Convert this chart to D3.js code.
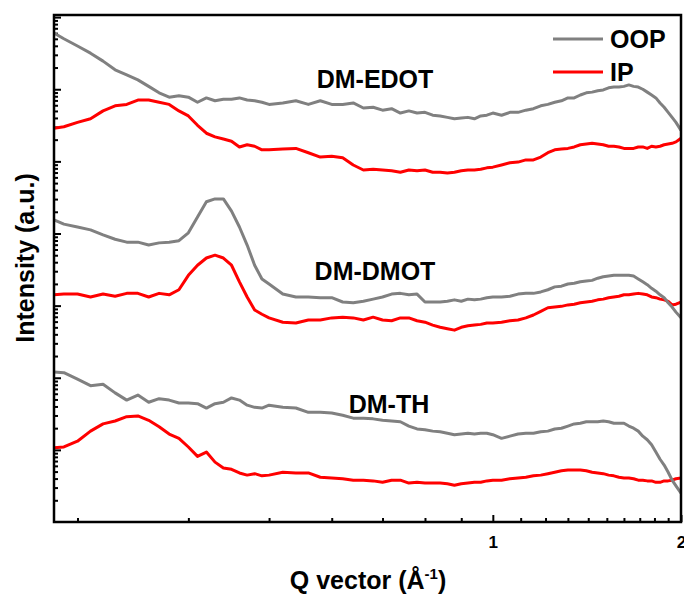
<!DOCTYPE html>
<html>
<head>
<meta charset="utf-8">
<script src="https://cdn.jsdelivr.net/npm/d3@7"></script>
<style>
  body { margin: 0; background: #fff; }
  svg { display: block; }
  text { font-family: "Liberation Sans", Arial, sans-serif; }
</style>
</head>
<body>
<svg id="chart" width="684" height="603"></svg>
<script>
// Scattering vector q (1/Å), shared by every profile
const q = [0.283,0.29,0.30,0.31,0.32,0.33,0.34,0.35,0.36,0.37,0.38,0.39,0.40,0.41,0.42,0.43,0.44,0.45,0.46,0.47,
  0.48,0.49,0.50,0.52,0.54,0.56,0.58,0.60,0.62,0.64,0.66,0.68,0.70,0.72,0.74,0.76,0.78,0.80,0.82,0.84,
  0.86,0.88,0.90,0.92,0.94,0.96,0.98,1.00,1.03,1.06,1.09,1.12,1.15,1.18,1.21,1.24,1.27,1.30,1.33,1.36,
  1.39,1.42,1.45,1.48,1.51,1.54,1.57,1.60,1.63,1.66,1.69,1.72,1.75,1.78,1.81,1.84,1.87,1.90,1.93,1.96,2.00];

// log10 of the (offset) line-cut intensity for each film and direction
const edotOop = [6.78,6.70,6.60,6.50,6.39,6.27,6.20,6.13,6.04,5.95,
  5.89,5.91,5.89,5.82,5.88,5.84,5.86,5.86,5.88,5.85,
  5.84,5.82,5.79,5.81,5.84,5.79,5.84,5.79,5.79,5.81,
  5.74,5.75,5.71,5.73,5.67,5.70,5.67,5.68,5.64,5.63,
  5.61,5.59,5.60,5.61,5.59,5.63,5.64,5.67,5.64,5.68,
  5.68,5.71,5.73,5.77,5.79,5.82,5.84,5.88,5.88,5.92,
  5.95,5.96,5.98,5.99,6.02,6.03,6.03,6.04,6.06,6.04,
  6.03,6.00,5.96,5.92,5.88,5.81,5.75,5.68,5.61,5.54,5.43];
const edotIp = [5.46,5.48,5.54,5.59,5.70,5.77,5.79,5.85,5.85,5.82,
  5.79,5.70,5.63,5.50,5.39,5.34,5.31,5.28,5.20,5.23,
  5.21,5.16,5.16,5.17,5.18,5.12,5.06,5.07,5.05,4.95,
  4.88,4.89,4.88,4.87,4.85,4.88,4.87,4.88,4.85,4.85,
  4.84,4.85,4.87,4.88,4.88,4.89,4.91,4.92,4.95,4.98,
  4.99,5.02,5.02,5.06,5.12,5.16,5.17,5.18,5.20,5.23,
  5.24,5.25,5.24,5.23,5.21,5.21,5.20,5.18,5.18,5.18,
  5.20,5.20,5.18,5.21,5.20,5.21,5.23,5.24,5.25,5.27,5.32];
const dmotOop = [4.19,4.13,4.09,4.05,3.98,3.92,3.88,3.88,3.84,3.87,
  3.88,3.90,4.01,4.23,4.44,4.48,4.48,4.31,4.09,3.84,
  3.56,3.37,3.30,3.16,3.12,3.12,3.11,3.11,3.05,3.04,
  3.06,3.09,3.12,3.16,3.17,3.15,3.16,3.05,3.05,3.05,
  3.06,3.08,3.06,3.09,3.08,3.09,3.11,3.12,3.12,3.13,
  3.16,3.17,3.17,3.19,3.22,3.26,3.27,3.30,3.31,3.33,
  3.34,3.35,3.38,3.40,3.41,3.42,3.42,3.42,3.42,3.41,
  3.37,3.33,3.29,3.24,3.20,3.15,3.11,3.04,2.98,2.91,2.83];
const dmotIp = [3.15,3.16,3.16,3.12,3.16,3.13,3.17,3.17,3.12,3.17,
  3.15,3.22,3.42,3.56,3.66,3.70,3.66,3.56,3.33,3.12,
  2.94,2.88,2.83,2.77,2.76,2.80,2.80,2.83,2.84,2.83,
  2.80,2.84,2.80,2.79,2.83,2.83,2.79,2.77,2.73,2.70,
  2.68,2.66,2.70,2.72,2.73,2.74,2.76,2.76,2.77,2.79,
  2.80,2.83,2.87,2.92,2.97,2.98,2.99,3.01,3.02,3.04,
  3.05,3.06,3.08,3.09,3.11,3.12,3.13,3.15,3.15,3.16,
  3.17,3.16,3.15,3.12,3.11,3.09,3.08,3.06,3.01,3.02,3.05];
const thOop = [2.08,2.07,1.98,1.89,1.91,1.79,1.69,1.76,1.66,1.71,
  1.69,1.65,1.65,1.64,1.58,1.64,1.66,1.72,1.69,1.62,
  1.59,1.58,1.62,1.59,1.58,1.52,1.52,1.51,1.48,1.44,
  1.44,1.43,1.41,1.40,1.39,1.33,1.29,1.28,1.26,1.25,
  1.23,1.21,1.22,1.23,1.22,1.23,1.23,1.21,1.16,1.19,
  1.22,1.23,1.23,1.25,1.26,1.29,1.30,1.33,1.36,1.37,
  1.39,1.39,1.39,1.40,1.39,1.37,1.37,1.37,1.33,1.30,
  1.26,1.19,1.14,1.07,0.97,0.87,0.79,0.69,0.58,0.50,0.40];
const thIp = [1.03,1.04,1.12,1.26,1.36,1.40,1.46,1.47,1.41,1.32,
  1.22,1.16,1.04,0.91,0.97,0.83,0.75,0.73,0.68,0.65,
  0.67,0.64,0.65,0.69,0.68,0.68,0.62,0.61,0.60,0.58,
  0.58,0.57,0.55,0.58,0.58,0.54,0.55,0.54,0.54,0.54,
  0.53,0.51,0.53,0.54,0.55,0.55,0.57,0.58,0.58,0.60,
  0.61,0.62,0.64,0.65,0.67,0.69,0.71,0.72,0.72,0.72,
  0.71,0.69,0.68,0.67,0.65,0.64,0.62,0.61,0.61,0.60,
  0.58,0.58,0.57,0.57,0.55,0.55,0.57,0.57,0.58,0.60,0.61];

const samples = ["DM-EDOT", "DM-DMOT", "DM-TH"];
const directions = ["OOP", "IP"];
const xMajorTicks = [1, 2];
const xMinorTicks = [0.3,0.4,0.5,0.6,0.7,0.8,0.9,1.1,1.2,1.3,1.4,1.5,1.6,1.7,1.8,1.9];

const profiles = [
  { dir: "IP",  values: edotIp },
  { dir: "OOP", values: edotOop },
  { dir: "IP",  values: dmotIp },
  { dir: "OOP", values: dmotOop },
  { dir: "IP",  values: thIp },
  { dir: "OOP", values: thOop }
];
const colour = { OOP: "#808080", IP: "#ff0000" };

const plotL = 54, plotR = 681, plotT = 15, plotB = 522;
const svg = d3.select("#chart");

const x = d3.scalePow().exponent(-0.25).domain([0.283, 2]).range([plotL, plotR]);
const y = d3.scaleLog().domain([1, 1.07e7]).range([plotB, plotT]);

// y ticks: decades plus 2..9 minors, no labels
const yMajor = d3.range(1, 8).map(k => 10 ** k);
const yMinor = [];
for (let k = 0; k < 7; k++) for (let m = 2; m <= 9; m++) yMinor.push(m * 10 ** k);

const axisStyle = g => {
  g.select(".domain").remove();
  g.selectAll(".tick line").attr("stroke", "#000").attr("stroke-width", 2);
};

svg.append("g").attr("transform", `translate(${plotL},0)`)
  .call(d3.axisLeft(y).tickValues(yMinor).tickSize(-4).tickFormat(""))
  .call(axisStyle);
svg.append("g").attr("transform", `translate(${plotL},0)`)
  .call(d3.axisLeft(y).tickValues(yMajor).tickSize(-7).tickFormat(""))
  .call(axisStyle);

svg.append("g").attr("transform", `translate(0,${plotB})`)
  .call(d3.axisBottom(x).tickValues(xMinorTicks).tickSize(-4).tickFormat(""))
  .call(axisStyle);
const xMaj = svg.append("g").attr("transform", `translate(0,${plotB})`)
  .call(d3.axisBottom(x).tickValues(xMajorTicks).tickSize(-7).tickPadding(14).tickFormat(d3.format("d")))
  .call(axisStyle);
xMaj.selectAll(".tick text")
  .attr("fill", "#000").attr("font-size", 17).attr("font-weight", "bold")
  .attr("font-family", "'Liberation Sans', Arial, sans-serif");

// curves
svg.append("clipPath").attr("id", "plotClip")
  .append("rect").attr("x", plotL).attr("y", plotT).attr("width", plotR - plotL).attr("height", plotB - plotT);

const line = d3.line()
  .x((d, i) => x(q[i]))
  .y(d => y(10 ** d))
  .curve(d3.curveLinear);

svg.append("g").attr("clip-path", "url(#plotClip)")
  .selectAll("path").data(profiles).join("path")
  .attr("d", p => line(p.values))
  .attr("fill", "none")
  .attr("stroke", p => colour[p.dir])
  .attr("stroke-width", 3)
  .attr("stroke-linejoin", "round");

// frame
svg.append("rect")
  .attr("x", plotL).attr("y", plotT).attr("width", plotR - plotL).attr("height", plotB - plotT)
  .attr("fill", "none").attr("stroke", "#000").attr("stroke-width", 2.5);

// sample names
const sampleLabelPos = [[375, 88], [375, 280], [389, 413]];
svg.selectAll("text.sample").data(samples).join("text")
  .attr("class", "sample")
  .attr("x", (d, i) => sampleLabelPos[i][0])
  .attr("y", (d, i) => sampleLabelPos[i][1])
  .attr("text-anchor", "middle")
  .attr("font-size", 25).attr("font-weight", "bold")
  .text(d => d);

// legend
const legend = svg.append("g").attr("transform", "translate(553,39)");
directions.forEach((dname, i) => {
  const g = legend.append("g").attr("transform", `translate(0,${i * 33})`);
  g.append("line").attr("x1", 0).attr("x2", 50).attr("y1", 0).attr("y2", 0)
    .attr("stroke", colour[dname]).attr("stroke-width", 3);
  g.append("text").attr("x", 57).attr("y", 9)
    .attr("font-size", 25).attr("font-weight", "bold").text(dname);
});

// axis titles
svg.append("text")
  .attr("transform", "translate(34,258) rotate(-90)")
  .attr("text-anchor", "middle")
  .attr("font-size", 25).attr("font-weight", "bold")
  .text("Intensity (a.u.)");

const xt = svg.append("text")
  .attr("x", 368).attr("y", 589)
  .attr("text-anchor", "middle")
  .attr("font-size", 25).attr("font-weight", "bold");
xt.append("tspan").text("Q vector (Å");
xt.append("tspan").attr("dy", -10).attr("font-size", 15).text("-1");
xt.append("tspan").attr("dy", 10).text(")");
</script>
</body>
</html>
